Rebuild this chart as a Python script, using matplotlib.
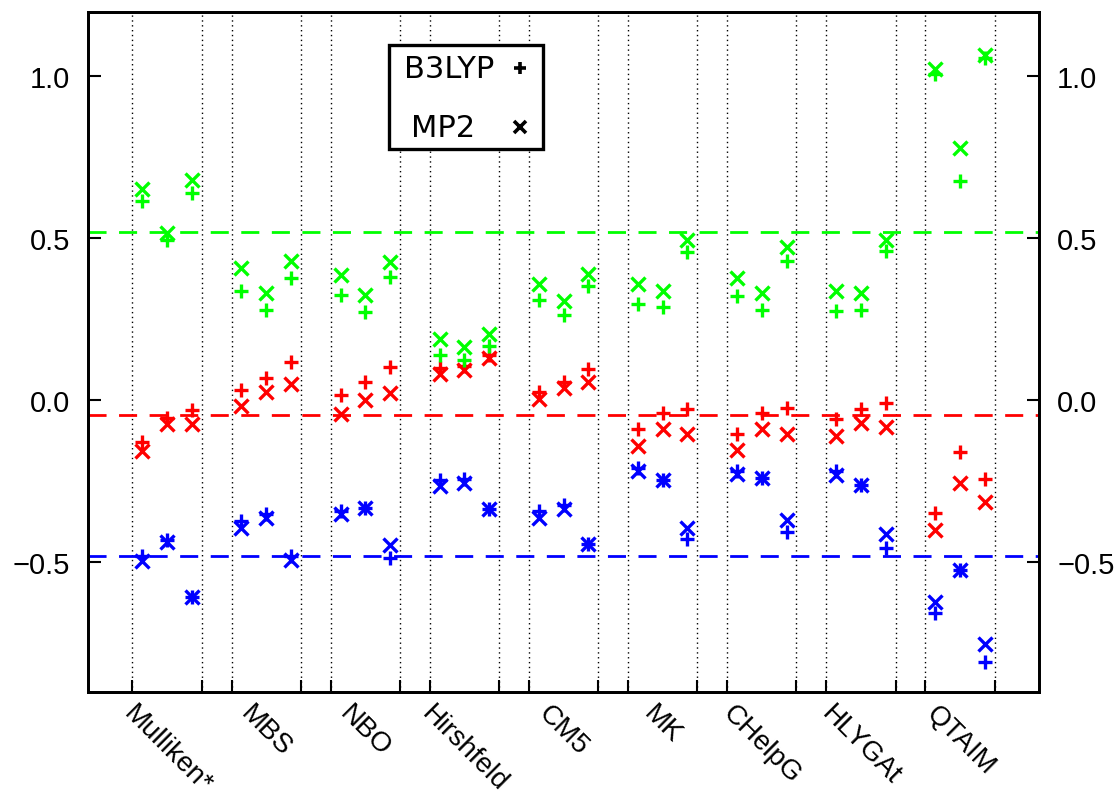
import matplotlib
matplotlib.use("Agg")
import matplotlib.pyplot as plt
from matplotlib.patches import Rectangle
import numpy as np

# 方法名称
methods = ["Mulliken*", "MBS", "NBO", "Hirshfeld", "CM5", "MK", "CHelpG", "HLYGAt", "QTAIM"]

# 参考线 (绿, 红, 蓝)
ref_green = 0.52
ref_red = -0.045
ref_blue = -0.48

# 每个方法三个点
green_b3lyp = [0.614, 0.496, 0.639, 0.338, 0.278, 0.376, 0.326, 0.273, 0.382,
               0.139, 0.124, 0.168, 0.309, 0.263, 0.352, 0.297, 0.287, 0.459,
               0.321, 0.278, 0.431, 0.276, 0.279, 0.462, 1.008, 0.678, 1.057]
green_mp2 = [0.652, 0.516, 0.680, 0.407, 0.330, 0.431, 0.387, 0.326, 0.428,
             0.189, 0.163, 0.206, 0.359, 0.307, 0.390, 0.359, 0.336, 0.496,
             0.379, 0.331, 0.474, 0.338, 0.330, 0.496, 1.023, 0.778, 1.067]
red_b3lyp = [-0.128, -0.054, -0.031, 0.032, 0.068, 0.118, 0.016, 0.057, 0.103,
             0.101, 0.106, 0.140, 0.026, 0.057, 0.096, -0.090, -0.038, -0.028,
             -0.103, -0.038, -0.023, -0.059, -0.026, -0.009, -0.347, -0.159, -0.244]
red_mp2 = [-0.157, -0.074, -0.074, -0.018, 0.024, 0.049, -0.043, 0.001, 0.021,
           0.080, 0.094, 0.129, 0.003, 0.039, 0.055, -0.141, -0.090, -0.105,
           -0.154, -0.090, -0.103, -0.110, -0.069, -0.084, -0.402, -0.257, -0.314]
blue_b3lyp = [-0.481, -0.432, -0.608, -0.373, -0.352, -0.481, -0.342, -0.332, -0.486,
              -0.247, -0.244, -0.335, -0.342, -0.322, -0.445, -0.208, -0.246, -0.430,
              -0.219, -0.241, -0.406, -0.219, -0.262, -0.455, -0.657, -0.525, -0.809]
blue_mp2 = [-0.497, -0.438, -0.608, -0.394, -0.363, -0.492, -0.352, -0.332, -0.448,
            -0.265, -0.257, -0.335, -0.363, -0.337, -0.445, -0.219, -0.246, -0.394,
            -0.229, -0.241, -0.371, -0.232, -0.262, -0.414, -0.624, -0.525, -0.754]

# x 位置: 每组间隔4
x = np.array([4 * i + j for i in range(len(methods)) for j in range(3)])
centers = np.array([4 * i + 1 for i in range(len(methods))])
bounds = np.array([b for i in range(len(methods)) for b in (4 * i - 0.4, 4 * i + 2.4)])

fig = plt.figure(figsize=(11.19, 8.03), dpi=100)
ax = fig.add_axes([0.0789, 0.1374, 0.8496, 0.8468])

# 竖直虚线
for b in bounds:
    ax.axvline(b, color="black", ls=(0, (1, 2.5)), lw=1.0, zorder=1)

# 参考线
for val, c in [(ref_green, "#00ff00"), (ref_red, "#ff0000"), (ref_blue, "#0000ff")]:
    ax.axhline(val, color=c, lw=2.0, dashes=(6.5, 4.5), zorder=2)

mew = 2.4
for yb, ym, c in [(blue_b3lyp, blue_mp2, "#0000ff"),
                  (red_b3lyp, red_mp2, "#ff0000"),
                  (green_b3lyp, green_mp2, "#00ff00")]:
    ax.plot(x, yb, ls="none", marker="+", ms=9.5, mew=mew, color=c, zorder=3)
    ax.plot(x, ym, ls="none", marker="x", ms=10, mew=mew, color=c, zorder=3)

ax.set_xlim(-2.18, 36.19)
ax.set_ylim(-0.9, 1.2)

for s in ax.spines.values():
    s.set_linewidth(2.0)

# x 轴刻度
ax.set_xticks(centers)
ax.set_xticklabels(methods, rotation=-45, ha="center", va="top",
                   fontfamily="Liberation Sans", fontsize=20)
ax.set_xticks(bounds, minor=True)
ax.tick_params(axis="x", which="major", length=0, pad=6)
ax.tick_params(axis="x", which="minor", direction="in", length=9, width=1.5, top=False)

# y 轴刻度, 左右都有
yt = [-0.5, 0.0, 0.5, 1.0]
ylabels = [f"{v:.1f}".replace("-", "\u2212") for v in yt]
ax.set_yticks(yt)
ax.set_yticklabels(ylabels, fontfamily="Liberation Sans", fontsize=21)
ax.tick_params(axis="y", direction="in", length=9, width=1.5, pad=13)
ax2 = ax.twinx()
ax2.set_ylim(ax.get_ylim())
ax2.set_yticks(yt)
ax2.set_yticklabels(ylabels, fontfamily="Liberation Sans", fontsize=21)
ax2.tick_params(axis="y", direction="in", length=9, width=1.5, pad=13)
for s in ax2.spines.values():
    s.set_linewidth(2.0)

# 图例 (手动画)
ax.add_patch(Rectangle((0.316, 0.798), 0.162, 0.153, transform=ax.transAxes,
                       facecolor="white", edgecolor="black", lw=2.4, zorder=5))
ax.text(0.380, 0.916, "B3LYP", transform=ax.transAxes, ha="center", va="center",
        fontfamily="DejaVu Sans", fontsize=22, zorder=6)
ax.text(0.3736, 0.830, "MP2", transform=ax.transAxes, ha="center", va="center",
        fontfamily="DejaVu Sans", fontsize=22, zorder=6)
ax.plot([0.4538], [0.917], transform=ax.transAxes, ls="none", marker="+",
        ms=9, mew=2.6, color="black", zorder=6, clip_on=False)
ax.plot([0.4538], [0.831], transform=ax.transAxes, ls="none", marker="x",
        ms=8, mew=2.6, color="black", zorder=6, clip_on=False)

fig.savefig("out.png", dpi=100)
